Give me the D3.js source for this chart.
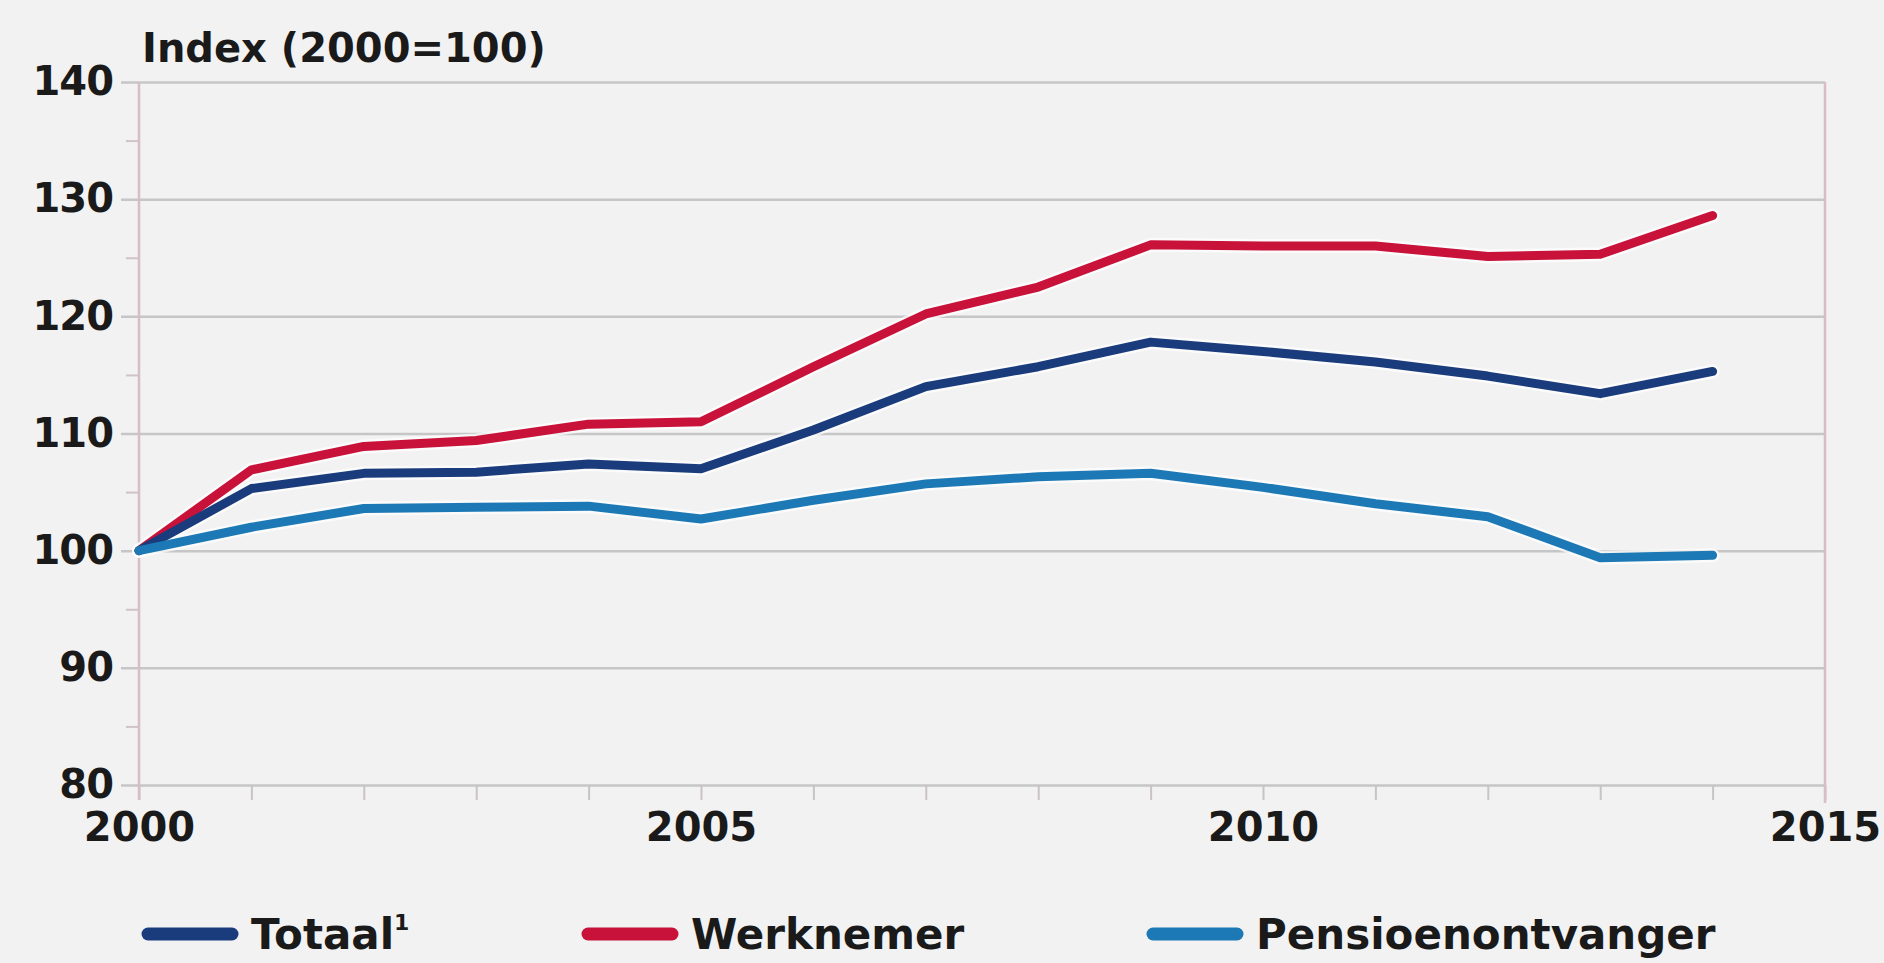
<!DOCTYPE html>
<html>
<head>
<meta charset="utf-8">
<script src="https://cdn.jsdelivr.net/npm/d3@7"></script>
<style>
html, body { margin: 0; padding: 0; background: #f2f2f2; }
svg { display: block; }
text { font-family: "DejaVu Sans", sans-serif; font-weight: bold; fill: #1a1a1a; }
</style>
</head>
<body>
<svg width="1884" height="963"></svg>
<script>
// jaren en reeksen (index 2000=100)
var years = [2000, 2001, 2002, 2003, 2004, 2005, 2006, 2007, 2008, 2009, 2010, 2011, 2012, 2013, 2014];
var totaal = [100, 105.3, 106.6, 106.7, 107.4, 107.0, 110.3, 114.0, 115.7, 117.8, 117.0, 116.1, 114.9, 113.4, 115.3];
var werknemer = [100, 106.9, 108.9, 109.4, 110.8, 111.0, 115.7, 120.2, 122.5, 126.1, 126.0, 126.0, 125.1, 125.3, 128.6];
var pensioen = [100, 102.0, 103.6, 103.7, 103.8, 102.7, 104.3, 105.7, 106.3, 106.6, 105.4, 104.0, 102.9, 99.4, 99.6];

var seriesNames = ["Totaal", "Werknemer", "Pensioenontvanger"];
var seriesColors = ["#1b3c7c", "#c8123a", "#1d79b5"];
var yTicks = [80, 90, 100, 110, 120, 130, 140];
var yMinorTicks = [85, 95, 105, 115, 125, 135];
var xLabelYears = [2000, 2005, 2010, 2015];
var yTitle = "Index (2000=100)";

var svg = d3.select("svg");
var plotLeft = 139, plotRight = 1825, plotTop = 82, plotBottom = 785;

var x = d3.scaleLinear().domain([2000, 2015]).range([plotLeft, plotRight]);
var y = d3.scaleLinear().domain([80, 140]).range([plotBottom, plotTop]);

// horizontale rasterlijnen + labels
var gridAxis = d3.axisLeft(y).tickValues(yTicks).tickSize(plotRight - plotLeft + 18).tickPadding(8);
var gy = svg.append("g").attr("transform", "translate(" + plotRight + ",0)").call(gridAxis);
gy.select(".domain").remove();
gy.selectAll("line").attr("stroke", "#c6c6c6").attr("stroke-width", 2.5);
gy.selectAll("text").attr("font-size", 40).attr("fill", "#1a1a1a").attr("letter-spacing", -1)
    .attr("font-family", "DejaVu Sans").attr("font-weight", "bold");

// kleine streepjes links
var minorAxis = d3.axisLeft(y).tickValues(yMinorTicks).tickSize(13).tickFormat("");
var gm = svg.append("g").attr("transform", "translate(" + plotLeft + ",0)").call(minorAxis);
gm.select(".domain").remove();
gm.selectAll("line").attr("stroke", "#cfc3c8").attr("stroke-width", 2);

// x-as
var xAxis = d3.axisBottom(x).tickValues(years.concat([2015])).tickSize(15).tickPadding(13)
    .tickFormat(function(d){ return xLabelYears.indexOf(d) >= 0 ? d : ""; });
var gx = svg.append("g").attr("transform", "translate(0," + plotBottom + ")").call(xAxis);
gx.select(".domain").remove();
gx.selectAll("line").attr("stroke", "#c9c3c6").attr("stroke-width", 2);
gx.selectAll("text").attr("font-size", 40).attr("fill", "#1a1a1a").attr("letter-spacing", 0)
    .attr("font-family", "DejaVu Sans").attr("font-weight", "bold");

// verticale randlijnen (roze)
svg.append("line").attr("x1", plotLeft).attr("x2", plotLeft).attr("y1", plotTop).attr("y2", plotBottom + 15)
    .attr("stroke", "#d8bcc6").attr("stroke-width", 2.5);
svg.append("line").attr("x1", plotRight).attr("x2", plotRight).attr("y1", plotTop).attr("y2", plotBottom + 18)
    .attr("stroke", "#d8bcc6").attr("stroke-width", 2.5);

// titel y-as
svg.append("text").attr("x", plotLeft + 3).attr("y", 62).attr("font-size", 40).text(yTitle);

// lijnen
var line = d3.line().x(function(d, i){ return x(years[i]); }).y(function(d){ return y(d); });
var drawOrder = [[werknemer, 1], [totaal, 0], [pensioen, 2]];
drawOrder.forEach(function(s){
    svg.append("path").attr("d", line(s[0])).attr("fill", "none")
        .attr("stroke", "#ffffff").attr("stroke-opacity", 0.7).attr("stroke-width", 14)
        .attr("stroke-linejoin", "round").attr("stroke-linecap", "round");
});
drawOrder.forEach(function(s){
    svg.append("path").attr("d", line(s[0])).attr("fill", "none")
        .attr("stroke", seriesColors[s[1]]).attr("stroke-width", 9)
        .attr("stroke-linejoin", "round").attr("stroke-linecap", "round");
});

// legenda
var legendX = [148, 588, 1153];
var legendY = 934;
var lg = svg.append("g").selectAll("g").data(seriesNames).enter().append("g")
    .attr("transform", function(d, i){ return "translate(" + legendX[i] + "," + legendY + ")"; });
lg.append("line").attr("x1", 0).attr("x2", 84).attr("y1", 0).attr("y2", 0)
    .attr("stroke", function(d, i){ return seriesColors[i]; })
    .attr("stroke-width", 13).attr("stroke-linecap", "round");
var lt = lg.append("text").attr("x", 103).attr("y", 15).attr("font-size", 42)
    .text(function(d){ return d; });
lt.filter(function(d){ return d == "Totaal"; }).append("tspan")
    .attr("font-size", 22).attr("dy", -19).text("1");
</script>
</body>
</html>
